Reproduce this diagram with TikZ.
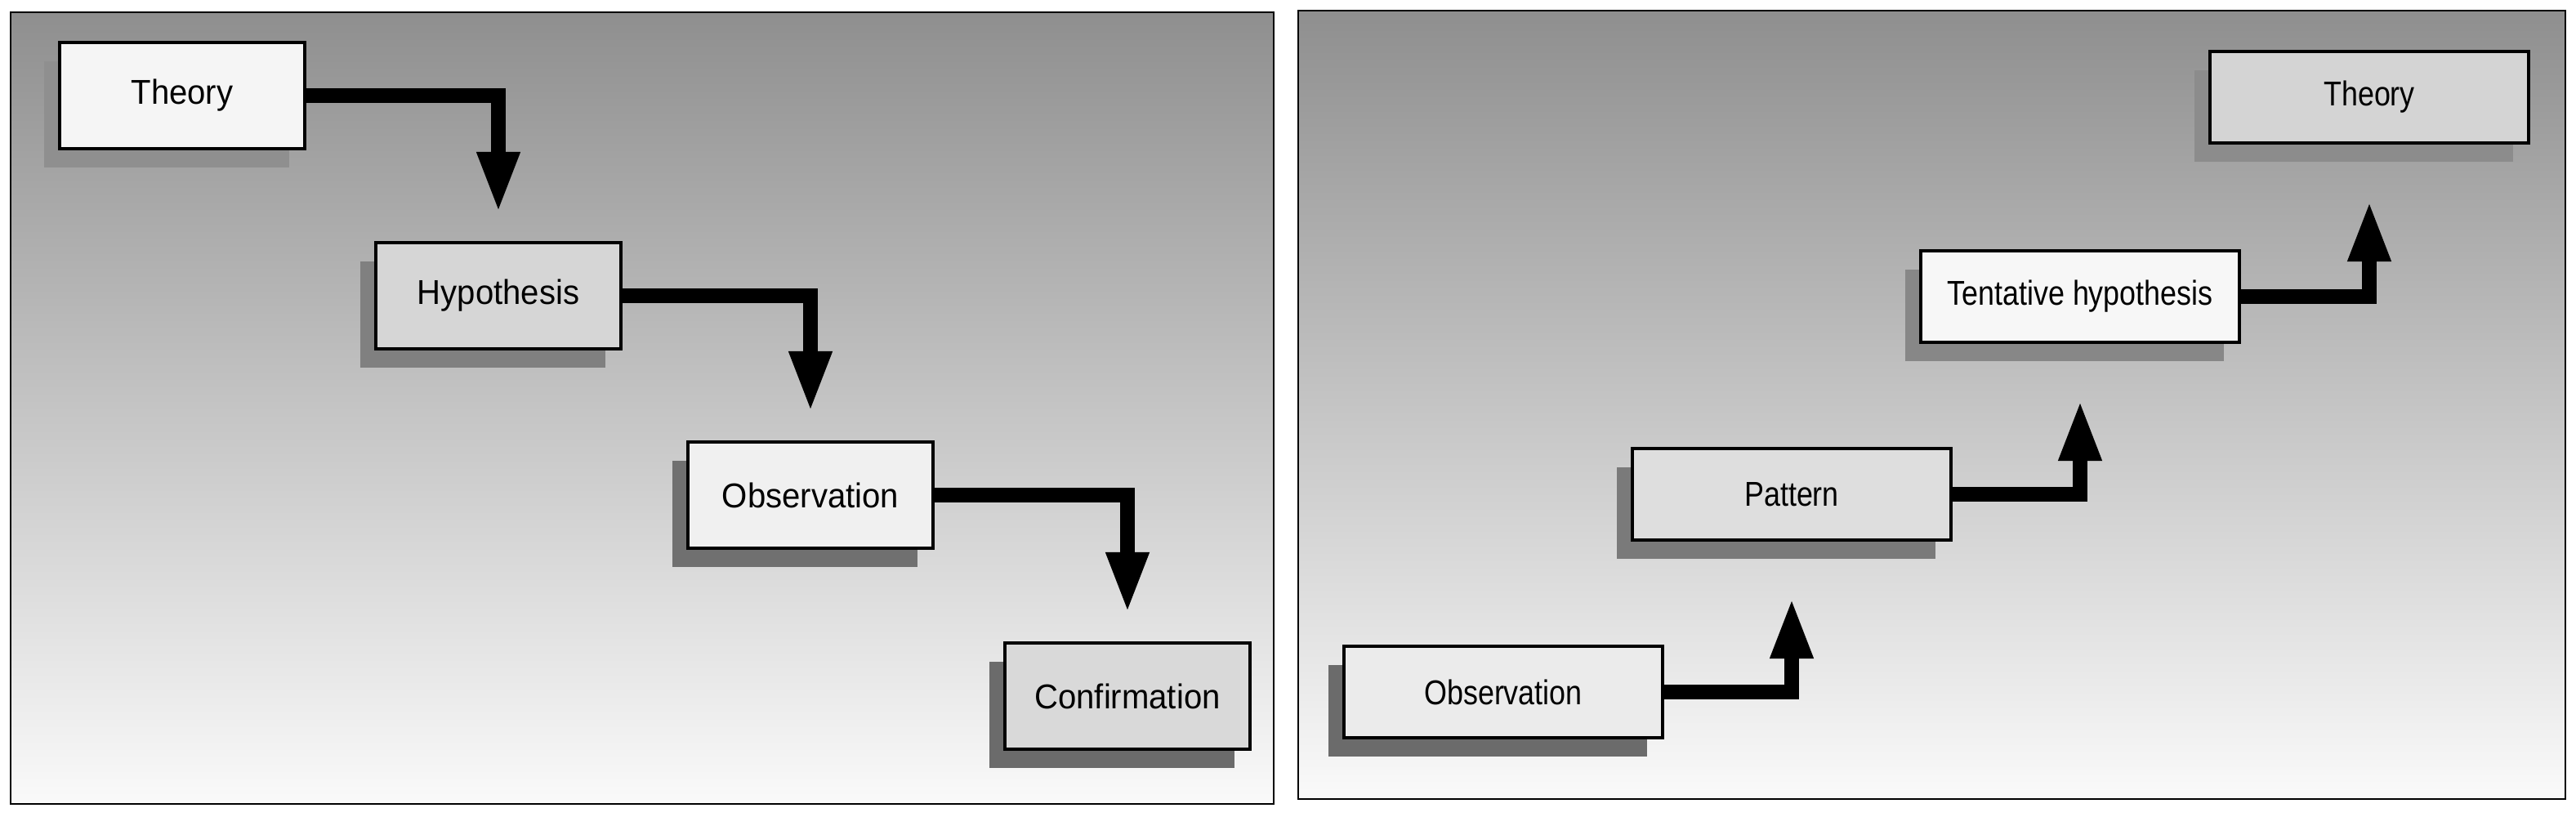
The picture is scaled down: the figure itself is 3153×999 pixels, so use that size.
\documentclass[tikz,border=0pt]{standalone}
\usepackage{fontspec}
\setmainfont{Liberation Sans}
\newfontfamily\leftfont{Liberation Sans}[FakeStretch=0.95]
\newfontfamily\rightfont{Liberation Sans}[FakeStretch=0.85]
\usetikzlibrary{arrows.meta,shadows}
\tikzset{
  panel/.style={draw, line width=0.8pt, top color=black!44, middle color=black!29, bottom color=black!2},
  box/.style={draw, line width=1.2pt, inner sep=0pt,
    drop shadow={shadow xshift=-0.19cm, shadow yshift=-0.23cm, fill=#1, opacity=1}},
  box/.default=black!58,
  lbox/.style={box=#1, minimum width=3cm, minimum height=1.3cm, font=\leftfont\fontsize{12}{14}\selectfont},
  lbox/.default=black!58,
  rbox/.style={box=#1, minimum width=3.9cm, minimum height=1.12cm, font=\rightfont\fontsize{12}{14}\selectfont},
  rbox/.default=black!58,
  flow/.style={line width=5.2pt, line join=miter, -{Triangle[length=0.75cm, width=0.48cm]}}
}
\begin{document}
\begin{tikzpicture}[x=0.01cm, y=-0.01cm]
      \useasboundingbox (0,0) rectangle (3153,999);
      \fill[white] (0,0) rectangle (3153,999);
      \draw[panel] (13,15) rectangle (1559,984);
      \draw[panel] (1589,13) rectangle (3140,978);
      \draw
        (223,117) node[lbox=black!44, fill=black!4] (t1){Theory}
        (610,362) node[lbox=black!50, fill=black!16] (h1){Hypothesis}
        (992,606) node[lbox=black!56, fill=black!6] (o1){Observation}
        (1380,852) node[lbox=black!58, fill=black!15] (c1){Confirmation};
      \draw
        (1840,847) node[rbox=black!58, fill=black!8] (o2){Observation}
        (2193,605) node[rbox=black!52, fill=black!13] (p2){Pattern}
        (2546,363) node[rbox=black!47, fill=black!3] (h2){Tentative hypothesis}
        (2900,119) node[rbox=black!45, fill=black!17] (t2){Theory};
      \begin{scope}[flow, shorten >=0.34cm]
        \draw (t1.east) -| (h1.north);
        \draw (h1.east) -| (o1.north);
        \draw (o1.east) -| (c1.north);
      \end{scope}
      \begin{scope}[flow, shorten >=0.68cm]
        \draw (o2.east) -| (p2.south);
        \draw (p2.east) -| (h2.south);
        \draw (h2.east) -| (t2.south);
      \end{scope}
    \end{tikzpicture}
\end{document}
